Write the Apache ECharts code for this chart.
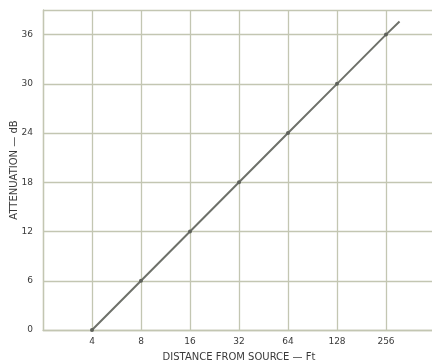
<!DOCTYPE html>
<html><head><meta charset="utf-8">
<script src="https://cdn.jsdelivr.net/npm/echarts@6/dist/echarts.min.js"></script>
<style>html,body{margin:0;padding:0;background:#fff}#c{width:432px;height:364px}</style>
</head><body><div id="c"></div>
<script>
const distances = [4, 8, 16, 32, 64, 128, 256, 310];
const attenuation = [0, 6, 12, 18, 24, 30, 36, 37.6];
const yTicks = [0, 6, 12, 18, 24, 30, 36];
const xTickLabels = [4, 8, 16, 32, 64, 128, 256];
const xTitle = 'DISTANCE FROM SOURCE \u2014 Ft';
const yTitle = 'ATTENUATION \u2014 dB';

const gridColor = '#c3c6b2';
const textColor = '#3a3a3a';
const font = 'DejaVu Sans';
const chart = echarts.init(document.getElementById('c'), null, {renderer: 'canvas'});
chart.setOption({
  backgroundColor: '#fff',
  animation: false,
  grid: {left: 43, right: -3, top: 10, bottom: 34, containLabel: false, outerBoundsMode: 'none'},
  xAxis: {
    type: 'log', logBase: 2, min: 2, max: 512,
    name: xTitle, nameLocation: 'middle', nameGap: 22, nameMoveOverlap: false,
    nameTextStyle: {color: textColor, fontSize: 10, fontFamily: font},
    axisLine: {show: true, lineStyle: {color: gridColor, width: 1.3}},
    axisTick: {show: false},
    splitLine: {show: true, lineStyle: {color: gridColor, width: 1.3}},
    minorTick: {show: false},
    axisLabel: {
      color: textColor, fontSize: 9, fontFamily: font, margin: 7,
      showMinLabel: false, showMaxLabel: false,
      formatter: v => xTickLabels.includes(Math.round(v)) ? String(Math.round(v)) : ''
    }
  },
  yAxis: {
    type: 'value', min: 0, max: 39, interval: 6,
    name: yTitle, nameLocation: 'middle', nameGap: 24, nameRotate: 90, nameMoveOverlap: false,
    nameTextStyle: {color: textColor, fontSize: 10, fontFamily: font, padding: [0, 0, 0, 0]},
    axisLine: {show: true, lineStyle: {color: gridColor, width: 1.3}},
    axisTick: {show: false},
    splitLine: {show: true, lineStyle: {color: gridColor, width: 1.3}},
    axisLabel: {
      color: textColor, fontSize: 9, fontFamily: font, margin: 10,
      formatter: v => yTicks.includes(v) ? String(v) : ''
    }
  },
  series: [{
    type: 'line',
    data: distances.map((d, i) => ({
      value: [d, attenuation[i]],
      symbol: i === distances.length - 1 ? 'none' : 'circle'
    })),
    showSymbol: true, symbolSize: 4,
    itemStyle: {color: '#5f625b'},
    lineStyle: {color: '#6e716a', width: 2}
  }]
});
</script></body></html>
